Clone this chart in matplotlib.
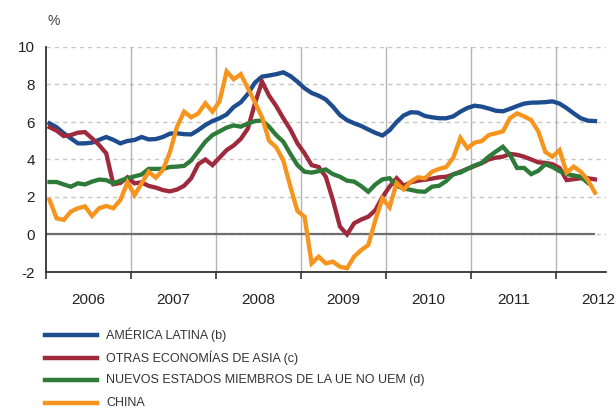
import matplotlib
matplotlib.use("Agg")
import matplotlib.pyplot as plt
from matplotlib.lines import Line2D
import numpy as np

plt.rcParams['font.family'] = ['Liberation Sans', 'DejaVu Sans']

# Monthly data, Jan 2006 - Jun 2012
america_latina = [
    5.93, 5.72, 5.40, 5.13, 4.86, 4.86, 4.90, 5.05, 5.20, 5.05, 4.86, 4.99,
    5.04, 5.20, 5.07, 5.09, 5.20, 5.38, 5.40, 5.35, 5.34, 5.57, 5.84, 6.05,
    6.20, 6.40, 6.80, 7.05, 7.50, 8.10, 8.42, 8.48, 8.55, 8.65, 8.45, 8.15,
    7.80, 7.55, 7.40, 7.20, 6.82, 6.37, 6.10, 5.93, 5.79, 5.60, 5.42, 5.28,
    5.56, 6.00, 6.35, 6.52, 6.50, 6.32, 6.25, 6.20, 6.20, 6.30, 6.55, 6.75,
    6.87, 6.82, 6.72, 6.60, 6.57, 6.70, 6.85, 6.98, 7.03, 7.04, 7.06, 7.10,
    6.98, 6.74, 6.46, 6.20, 6.07, 6.05,
]
otras_asia = [
    5.72, 5.54, 5.25, 5.30, 5.43, 5.46, 5.13, 4.77, 4.33, 2.68, 2.75, 3.05,
    2.73, 2.78, 2.59, 2.50, 2.37, 2.30, 2.40, 2.60, 3.00, 3.75, 4.00, 3.70,
    4.10, 4.50, 4.75, 5.10, 5.65, 7.00, 8.15, 7.40, 6.85, 6.20, 5.60, 4.86,
    4.33, 3.70, 3.60, 3.08, 1.84, 0.42, 0.00, 0.60, 0.80, 0.95, 1.30, 2.00,
    2.55, 3.00, 2.60, 2.78, 2.87, 2.92, 2.98, 3.05, 3.08, 3.20, 3.35, 3.50,
    3.65, 3.80, 4.00, 4.10, 4.15, 4.30, 4.25, 4.15, 4.00, 3.85, 3.82, 3.75,
    3.55, 2.90, 2.95, 3.00, 3.00, 2.94,
]
nuevos_ue = [
    2.80, 2.80, 2.67, 2.55, 2.73, 2.67, 2.82, 2.93, 2.90, 2.73, 2.87, 3.00,
    3.10, 3.20, 3.50, 3.50, 3.50, 3.60, 3.62, 3.66, 3.95, 4.45, 4.95, 5.30,
    5.50, 5.70, 5.82, 5.75, 5.92, 6.05, 6.08, 5.75, 5.30, 4.95, 4.30, 3.70,
    3.35, 3.30, 3.38, 3.47, 3.22, 3.08, 2.87, 2.82, 2.58, 2.28, 2.67, 2.94,
    3.00, 2.60, 2.45, 2.38, 2.30, 2.28, 2.55, 2.60, 2.85, 3.22, 3.30, 3.50,
    3.68, 3.82, 4.15, 4.42, 4.68, 4.25, 3.55, 3.55, 3.22, 3.40, 3.75, 3.60,
    3.38, 3.22, 3.15, 3.08, 2.75,
]
china = [
    1.84, 0.86, 0.78, 1.22, 1.40, 1.50, 0.99, 1.40, 1.52, 1.40, 1.84, 2.78,
    2.10, 2.73, 3.35, 3.03, 3.44, 4.40, 5.75, 6.55, 6.25, 6.46, 7.00, 6.55,
    7.10, 8.70, 8.28, 8.55, 7.80, 7.05, 6.25, 5.00, 4.65, 3.95, 2.55, 1.25,
    0.95, -1.54, -1.18, -1.54, -1.45, -1.72, -1.80, -1.18, -0.83, -0.56, 0.77, 1.93,
    1.45, 2.75, 2.40, 2.82, 3.05, 3.00, 3.35, 3.50, 3.60, 4.10, 5.15, 4.60,
    4.90, 4.98, 5.30, 5.40, 5.50, 6.20, 6.46, 6.30, 6.10, 5.50, 4.40, 4.15,
    4.50, 3.30, 3.62, 3.35, 2.90, 2.23,
]

labels = ["AMÉRICA LATINA (b)", "OTRAS ECONOMÍAS DE ASIA (c)",
          "NUEVOS ESTADOS MIEMBROS DE LA UE NO UEM (d)", "CHINA"]
colors = ["#1d4c8f", "#9e2a3c", "#2e7a38", "#f7941d"]
years = [2006, 2007, 2008, 2009, 2010, 2011, 2012]
yticks = [-2, 0, 2, 4, 6, 8, 10]

W, H = 616, 409
fig = plt.figure(figsize=(W / 100, H / 100), dpi=100)
ax = fig.add_axes([46 / W, 1 - 272 / H, 560 / W, 225 / H])

series = [america_latina, otras_asia, nuevos_ue, china]
for s, c in zip(series, colors):
    x = 2006 + (np.arange(len(s)) + 0.5) / 12
    ax.plot(x, s, color=c, lw=3.1, solid_joinstyle='miter', zorder=5)

xend = 2006 + (len(china) - 0.5) / 12
ax.set_xlim(2006, 2006 + 560 / 85)
ax.set_ylim(-2, 10)

# grid
for yv in yticks[1:]:
    ax.axhline(yv, color="#c6c6c6", lw=1.0, ls=(0, (3, 3)), zorder=1)
ax.hlines(0, 2006, xend, color="#6e6e6e", lw=1.6, zorder=2)
for yr in years[1:]:
    ax.axvline(yr, color="#b4b4b4", lw=1.0, zorder=1)

ax.set_yticks(yticks)
ax.set_yticklabels([str(v) for v in yticks])
ax.set_xticks(years)
ax.set_xticklabels([])
ax.set_xticks([y + 0.5 for y in years], minor=True)
ax.set_xticklabels([str(y) for y in years], minor=True)
ax.tick_params(axis='x', which='major', length=5, width=1.2, color="#333333", direction='out')
ax.tick_params(axis='x', which='minor', length=0, pad=15, labelsize=11, labelcolor="#222222")
ax.tick_params(axis='y', length=0, pad=8, labelsize=11, labelcolor="#222222")

for sp in ['top', 'right']:
    ax.spines[sp].set_visible(False)
for sp in ['left', 'bottom']:
    ax.spines[sp].set_color("#333333")
    ax.spines[sp].set_linewidth(1.3)
ax.patch.set_alpha(0)

fig.text(47 / W, 1 - 21 / H, "%", fontsize=10, color="#444444", va='center', ha='left')

# legend
leg_y = [335, 358, 380, 403]
for lbl, c, yy in zip(labels, colors, leg_y):
    fy = 1 - yy / H
    fig.add_artist(Line2D([45 / W, 97 / W], [fy, fy], color=c, lw=3.2,
                          transform=fig.transFigure))
    fig.text(106 / W, fy, lbl, fontsize=9, color="#333333", va='center', ha='left')

fig.savefig("out.png", dpi=100)
